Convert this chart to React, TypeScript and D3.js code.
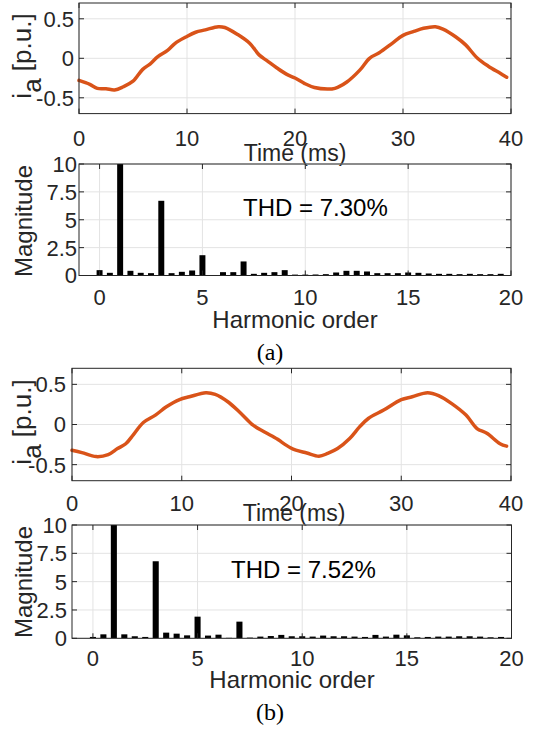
import React from 'react';
import * as d3 from 'd3';

// ---- data ----
const timeA = [0, 1.0, 1.7, 2.5, 3.3, 4.1, 5.0, 5.9, 6.6, 7.3, 8.2, 8.9, 9.9, 10.8, 11.7, 12.9, 13.5, 14.7, 15.8, 16.7, 17.4, 18.3, 19.2, 20.0, 20.9, 21.8, 23.0, 23.7, 24.8, 26.0, 26.9, 27.8, 29.0, 30.0, 31.0, 31.9, 33.0, 33.7, 34.9, 35.8, 36.9, 37.9, 39.0, 39.6];
const currentA = [-0.28, -0.33, -0.38, -0.385, -0.4, -0.36, -0.29, -0.14, -0.07, 0.02, 0.1, 0.19, 0.27, 0.33, 0.36, 0.4, 0.39, 0.3, 0.19, 0.04, -0.03, -0.12, -0.2, -0.25, -0.32, -0.37, -0.39, -0.38, -0.3, -0.15, 0.0, 0.07, 0.19, 0.29, 0.34, 0.38, 0.4, 0.37, 0.27, 0.17, 0.0, -0.1, -0.19, -0.24];

const timeB = [0, 0.9, 2.2, 3.3, 4.15, 4.9, 5.6, 6.5, 7.6, 8.6, 9.8, 10.7, 12.2, 13.05, 14.2, 15.4, 16.5, 17.5, 18.7, 19.1, 19.9, 20.4, 21.4, 22.5, 23.3, 24.2, 25.3, 26.2, 27.0, 28.4, 30.0, 31.0, 32.4, 33.4, 34.6, 35.9, 36.9, 37.8, 39.0, 39.6];
const currentB = [-0.32, -0.35, -0.4, -0.375, -0.3, -0.24, -0.125, 0.025, 0.117, 0.22, 0.31, 0.345, 0.396, 0.375, 0.283, 0.137, -0.008, -0.09, -0.18, -0.22, -0.29, -0.32, -0.355, -0.395, -0.36, -0.3, -0.175, -0.03, 0.075, 0.18, 0.31, 0.345, 0.396, 0.36, 0.26, 0.117, -0.05, -0.11, -0.24, -0.27];

const harmonicOrders = [0, 0.5, 1, 1.5, 2, 2.5, 3, 3.5, 4, 4.5, 5, 5.5, 6, 6.5, 7, 7.5, 8, 8.5, 9, 9.5, 10, 10.5, 11, 11.5, 12, 12.5, 13, 13.5, 14, 14.5, 15, 15.5, 16, 16.5, 17, 17.5, 18, 18.5, 19, 19.5];
const magnitudeA = [0.48, 0.24, 10, 0.42, 0.24, 0.21, 6.7, 0.21, 0.33, 0.45, 1.82, 0.04, 0.3, 0.3, 1.26, 0.15, 0.24, 0.3, 0.48, 0.08, 0.08, 0.09, 0.12, 0.27, 0.42, 0.42, 0.36, 0.21, 0.21, 0.21, 0.27, 0.24, 0.18, 0.15, 0.15, 0.12, 0.15, 0.12, 0.12, 0.15];
const magnitudeB = [0.12, 0.35, 10, 0.35, 0.18, 0.12, 6.8, 0.5, 0.41, 0.26, 1.91, 0.24, 0.32, 0.04, 1.47, 0.06, 0.15, 0.2, 0.3, 0.18, 0.18, 0.15, 0.24, 0.18, 0.18, 0.15, 0.12, 0.3, 0.15, 0.32, 0.26, 0.09, 0.12, 0.15, 0.15, 0.18, 0.18, 0.15, 0.09, 0.12];

const timeTicks = [0, 10, 20, 30, 40];
const currentTicks = [-0.5, 0, 0.5];
const currentTickLabels = ['-0.5', '0', '0.5'];
const orderTicks = [0, 5, 10, 15, 20];
const magTicks = [0, 2.5, 5, 7.5, 10];
const magTickLabels = ['0', '2.5', '5', '7.5', '10'];
const thdLabels = ['THD = 7.30%', 'THD = 7.52%'];
const captions = ['(a)', '(b)'];

const SANS = '"Liberation Sans", Arial, Helvetica, sans-serif';
const SERIF = '"Liberation Serif", "Times New Roman", serif';
const AX = '#262626';
const GRID = '#e3e3e3';
const LINE = '#D95319';
const TICK_FS = 22;
const LABEL_FS = 24;

type Frame = {
  left: number; right: number; top: number; bottom: number;
  xTickBase: number; yTickRight: number; xLabelX: number; xLabelBase: number; yLabelX: number; yLabelY: number;
};

function Grid({ x, y, xTicks, yTicks, f }: any) {
  return (
    <g>
      {xTicks.map((t: number, i: number) => (
        <line key={'gx' + i} x1={x(t)} x2={x(t)} y1={f.top} y2={f.bottom} stroke={GRID} strokeWidth={1} />
      ))}
      {yTicks.map((t: number, i: number) => (
        <line key={'gy' + i} x1={f.left} x2={f.right} y1={y(t)} y2={y(t)} stroke={GRID} strokeWidth={1} />
      ))}
    </g>
  );
}

function Frame({ x, y, xTicks, yTicks, yLabels, f }: any) {
  const tl = 5;
  return (
    <g>
      <rect x={f.left} y={f.top} width={f.right - f.left} height={f.bottom - f.top} fill="none" stroke={AX} strokeWidth={1} />
      {xTicks.map((t: number, i: number) => (
        <g key={'tx' + i}>
          <line x1={x(t)} x2={x(t)} y1={f.bottom} y2={f.bottom - tl} stroke={AX} />
          <line x1={x(t)} x2={x(t)} y1={f.top} y2={f.top + tl} stroke={AX} />
          <text x={x(t)} y={f.xTickBase} textAnchor="middle" fontFamily={SANS} fontSize={TICK_FS} fill={AX}>{String(t)}</text>
        </g>
      ))}
      {yTicks.map((t: number, i: number) => (
        <g key={'ty' + i}>
          <line x1={f.left} x2={f.left + tl} y1={y(t)} y2={y(t)} stroke={AX} />
          <line x1={f.right} x2={f.right - tl} y1={y(t)} y2={y(t)} stroke={AX} />
          <text x={f.yTickRight} y={y(t)} dy="0.36em" textAnchor="end" fontFamily={SANS} fontSize={TICK_FS} fill={AX}>{yLabels[i]}</text>
        </g>
      ))}
    </g>
  );
}

function WavePanel({ f, times, values }: { f: Frame; times: number[]; values: number[] }) {
  const x = d3.scaleLinear().domain([0, 40]).range([f.left, f.right]);
  const y = d3.scaleLinear().domain([-0.7, 0.7]).range([f.bottom, f.top]);
  const pts = times.map((t, i) => [t, values[i]] as [number, number]);
  const line = d3.line<[number, number]>().x(d => x(d[0])).y(d => y(d[1])).curve(d3.curveCatmullRom.alpha(0.5));
  return (
    <g>
      <Grid x={x} y={y} xTicks={timeTicks} yTicks={currentTicks} f={f} />
      <path d={line(pts) || ''} fill="none" stroke={LINE} strokeWidth={3.5} strokeLinejoin="round" strokeLinecap="round" />
      <Frame x={x} y={y} xTicks={timeTicks} yTicks={currentTicks} yLabels={currentTickLabels} f={f} />
      <text x={f.xLabelX} y={f.xLabelBase} textAnchor="middle" fontFamily={SANS} fontSize={23} fill={AX}>Time (ms)</text>
      <text transform={`translate(${f.yLabelX},${f.yLabelY}) rotate(-90)`} textAnchor="middle" fontFamily={SANS} fontSize={26} fill={AX}>
        i<tspan dy={10}>a</tspan><tspan dy={-10}> [p.u.]</tspan>
      </text>
    </g>
  );
}

function BarPanel({ f, mags, thd, thdX, thdBase }: { f: Frame; mags: number[]; thd: string; thdX: number; thdBase: number }) {
  const x = d3.scaleLinear().domain([-1, 20]).range([f.left, f.right]);
  const y = d3.scaleLinear().domain([0, 10]).range([f.bottom, f.top]);
  const bw = x(0.29) - x(0);
  const clipId = 'clip' + Math.round(f.top);
  return (
    <g>
      <defs>
        <clipPath id={clipId}><rect x={f.left} y={f.top} width={f.right - f.left} height={f.bottom - f.top} /></clipPath>
      </defs>
      <Grid x={x} y={y} xTicks={orderTicks} yTicks={magTicks} f={f} />
      <g clipPath={`url(#${clipId})`}>
        {harmonicOrders.map((h, i) => (
          <rect key={i} x={x(h) - bw / 2} width={bw} y={y(mags[i])} height={y(0) - y(mags[i])} fill="#000" />
        ))}
      </g>
      <Frame x={x} y={y} xTicks={orderTicks} yTicks={magTicks} yLabels={magTickLabels} f={f} />
      <text x={thdX} y={thdBase} fontFamily={SANS} fontSize={24} fill="#000">{thd}</text>
      <text x={f.xLabelX} y={f.xLabelBase} textAnchor="middle" fontFamily={SANS} fontSize={LABEL_FS} fill={AX}>Harmonic order</text>
      <text transform={`translate(${f.yLabelX},${f.yLabelY}) rotate(-90)`} textAnchor="middle" fontFamily={SANS} fontSize={LABEL_FS} fill={AX}>Magnitude</text>
    </g>
  );
}

export default function App() {
  const f1: Frame = { left: 79, right: 511, top: 3, bottom: 113.6, xTickBase: 146, yTickRight: 74, xLabelX: 295, xLabelBase: 161, yLabelX: 31, yLabelY: 56 };
  const f2: Frame = { left: 79, right: 511, top: 164, bottom: 275.5, xTickBase: 305, yTickRight: 77, xLabelX: 295, xLabelBase: 328, yLabelX: 32, yLabelY: 221 };
  const f3: Frame = { left: 72, right: 511, top: 368.3, bottom: 480.7, xTickBase: 511, yTickRight: 66, xLabelX: 294, xLabelBase: 521, yLabelX: 31, yLabelY: 422 };
  const f4: Frame = { left: 72, right: 511.5, top: 525, bottom: 638.3, xTickBase: 666, yTickRight: 67, xLabelX: 292, xLabelBase: 688, yLabelX: 32, yLabelY: 582 };
  return (
    <svg width={539} height={731} style={{ position: 'absolute', left: 0, top: 0, background: '#fff' }}>
      <rect width={539} height={731} fill="#fff" />
      <WavePanel f={f1} times={timeA} values={currentA} />
      <BarPanel f={f2} mags={magnitudeA} thd={thdLabels[0]} thdX={243} thdBase={216} />
      <text x={270} y={360} textAnchor="middle" fontFamily={SERIF} fontSize={24} fill="#000">{captions[0]}</text>
      <WavePanel f={f3} times={timeB} values={currentB} />
      <BarPanel f={f4} mags={magnitudeB} thd={thdLabels[1]} thdX={231} thdBase={578} />
      <text x={270} y={720} textAnchor="middle" fontFamily={SERIF} fontSize={24} fill="#000">{captions[1]}</text>
    </svg>
  );
}
